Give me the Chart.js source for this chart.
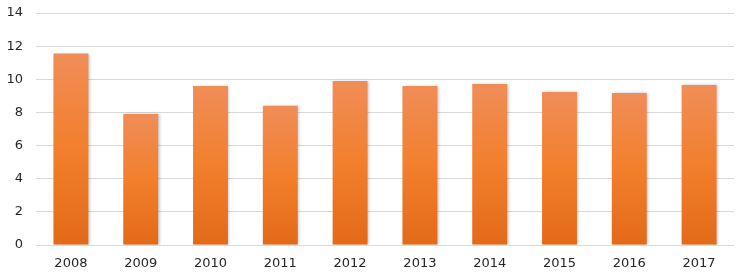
<!DOCTYPE html>
<html>
<head>
<meta charset="utf-8">
<script src="https://cdn.jsdelivr.net/npm/chart.js@4/dist/chart.umd.min.js"></script>
<style>
  html, body { margin: 0; padding: 0; background: #fff; }
  #wrap { width: 746px; height: 278px; }
</style>
</head>
<body>
<div id="wrap"><canvas id="chart"></canvas></div>
<script>
// ── Data ──
const years  = ['2008','2009','2010','2011','2012','2013','2014','2015','2016','2017'];
const values = [11.55, 7.9, 9.6, 8.4, 9.9, 9.6, 9.72, 9.23, 9.17, 9.65];
const yTicks = [0, 2, 4, 6, 8, 10, 12, 14];

// per-bar vertical gradient, lighter at the top
function barFill(ctx) {
  const chart = ctx.chart;
  const area = chart.chartArea;
  if (!area || ctx.type !== 'data') return '#F07F2A';
  const y = chart.scales.y;
  const top = y.getPixelForValue(values[ctx.dataIndex]);
  const bottom = y.getPixelForValue(0);
  const g = chart.ctx.createLinearGradient(0, top, 0, bottom);
  g.addColorStop(0, '#F08D58');
  g.addColorStop(0.5, '#F27F2C');
  g.addColorStop(1, '#E26A19');
  return g;
}

// soft shadow under bars
const barShadow = {
  id: 'barShadow',
  beforeDatasetsDraw(chart) {
    const c = chart.ctx;
    c.save();
    c.shadowColor = 'rgba(0,0,0,0.25)';
    c.shadowBlur = 3;
    c.shadowOffsetX = 1.5;
    c.shadowOffsetY = 0;
  },
  afterDatasetsDraw(chart) {
    chart.ctx.restore();
  }
};

new Chart(document.getElementById('chart'), {
  type: 'bar',
  data: {
    labels: years,
    datasets: [{
      data: values,
      backgroundColor: barFill,
      borderWidth: 0,
      categoryPercentage: 1,
      barPercentage: 0.5,
    }]
  },
  options: {
    responsive: true,
    maintainAspectRatio: false,
    animation: false,
    layout: { padding: { top: 13, right: 12, left: 0, bottom: 0 } },
    plugins: { legend: { display: false }, tooltip: { enabled: false } },
    scales: {
      x: {
        grid: { display: false },
        border: { display: false },
        afterFit: axis => { axis.height = 33; },
        ticks: { color: '#262626', font: { family: 'DejaVu Sans', size: 13 }, padding: 3 }
      },
      y: {
        min: 0, max: 14,
        afterBuildTicks: axis => { axis.ticks = yTicks.map(v => ({ value: v })); },
        afterFit: axis => { axis.width = 36; axis.paddingTop = 0; axis.paddingBottom = 0; },
        grid: { color: '#d9d9d9', lineWidth: 1, drawTicks: false },
        border: { display: false },
        ticks: { color: '#262626', font: { family: 'DejaVu Sans', size: 13 }, padding: 13 }
      }
    }
  },
  plugins: [barShadow]
});
</script>
</body>
</html>
